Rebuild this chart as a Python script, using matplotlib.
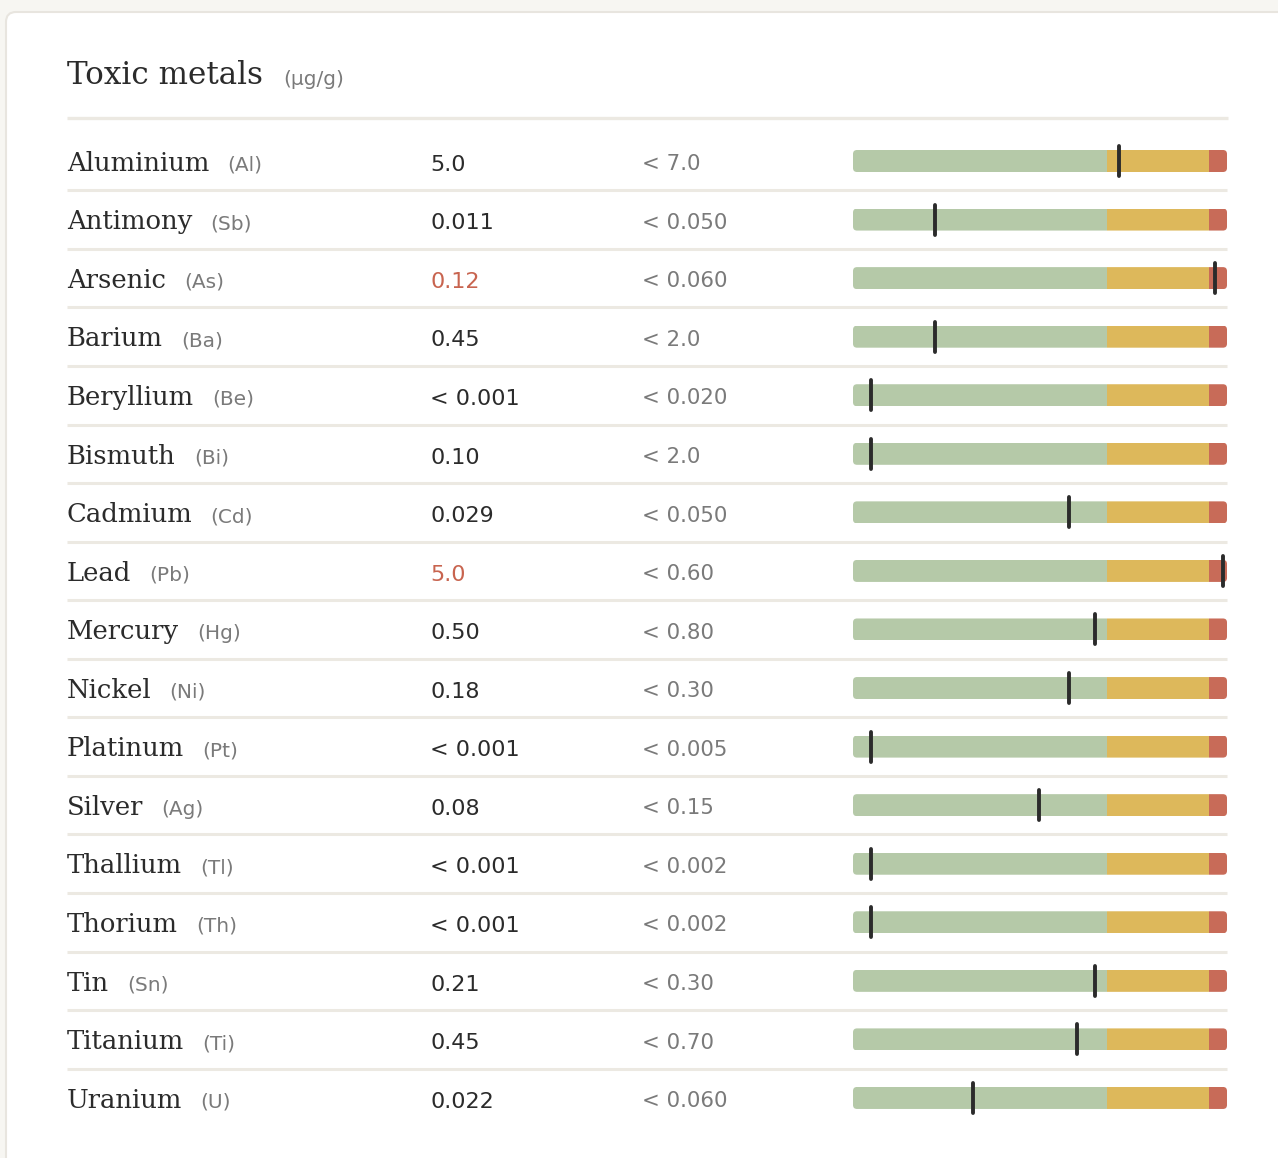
# plot.py
# Toxic metals panel: name / result / reference / range bar per element.
import matplotlib
matplotlib.use("Agg")
import matplotlib.pyplot as plt
from matplotlib.patches import FancyBboxPatch, Rectangle

# --- Data ---
NAMES = ["Aluminium", "Antimony", "Arsenic", "Barium", "Beryllium", "Bismuth",
         "Cadmium", "Lead", "Mercury", "Nickel", "Platinum", "Silver",
         "Thallium", "Thorium", "Tin", "Titanium", "Uranium"]
SYMBOLS = ["Al", "Sb", "As", "Ba", "Be", "Bi", "Cd", "Pb", "Hg", "Ni", "Pt",
           "Ag", "Tl", "Th", "Sn", "Ti", "U"]
RESULTS = ["5.0", "0.011", "0.12", "0.45", "< 0.001", "0.10", "0.029", "5.0",
           "0.50", "0.18", "< 0.001", "0.08", "< 0.001", "< 0.001", "0.21",
           "0.45", "0.022"]
LIMITS = ["< 7.0", "< 0.050", "< 0.060", "< 2.0", "< 0.020", "< 2.0",
          "< 0.050", "< 0.60", "< 0.80", "< 0.30", "< 0.005", "< 0.15",
          "< 0.002", "< 0.002", "< 0.30", "< 0.70", "< 0.060"]
ELEVATED = ["Arsenic", "Lead"]
# marker position on the range bar (0-100 scale of the bar)
MARKER_POS = [71.2, 22.0, 96.9, 21.9, 4.9, 4.9, 57.8, 99.0, 64.8, 57.8, 4.9,
              49.8, 4.9, 4.9, 64.8, 60.0, 32.2]
# zone limits on the same scale: green | yellow | red
ZONES = [(0, 67.9, "#b5c9a8"), (67.9, 95.2, "#ddb85b"), (95.2, 100, "#c86b58")]

# --- Look ---
W, H = 1278, 1158
BG = "#f7f6f2"
INK = "#2b2b2b"
GREY = "#7a7a7a"
RED_TXT = "#c8644f"
RULE = "#ece9e2"
SERIF = "DejaVu Serif"
SANS = "DejaVu Sans"

ROW0, ROW_STEP = 161, 58.56
BAR_X0, BAR_X1 = 853, 1227
BAR_H = 22

fig = plt.figure(figsize=(W / 100, H / 100), dpi=100, facecolor=BG)
ax = fig.add_axes([0, 0, 1, 1])
ax.set_xlim(0, W)
ax.set_ylim(H, 0)
ax.axis("off")

# card
card = FancyBboxPatch((6, 12), 1400, 1300, boxstyle="round,pad=0,rounding_size=10",
                      facecolor="white", edgecolor="#e8e5df", linewidth=1.5)
ax.add_patch(card)

# title
title = ax.text(67, 84, "Toxic metals", family=SERIF, fontsize=22.3, color=INK,
                va="baseline")
fig.canvas.draw()
renderer = fig.canvas.get_renderer()
inv = ax.transData.inverted()
tx = inv.transform(title.get_window_extent(renderer).get_points())[1, 0]
ax.text(tx + 20, 85, "(µg/g)", family=SANS, fontsize=14.5, color=GREY, va="baseline")
ax.plot([67, 1228], [117.5, 117.5], color=RULE, lw=2.4, solid_capstyle="butt")

rows = [ROW0 + i * ROW_STEP for i in range(len(NAMES))]

for i, y in enumerate(rows):
    base = y + 9.7
    t = ax.text(67, base, NAMES[i], family=SERIF, fontsize=18.6, color=INK,
                va="baseline")
    ex = inv.transform(t.get_window_extent(renderer).get_points())[1, 0]
    ax.text(ex + 18, base, f"({SYMBOLS[i]})", family=SANS, fontsize=14.5,
            color=GREY, va="baseline")
    col = RED_TXT if NAMES[i] in ELEVATED else INK
    ax.text(430, base, RESULTS[i], family=SANS, fontsize=16, color=col,
            va="baseline")
    ax.text(642, base - 0.5, LIMITS[i], family=SANS, fontsize=15.3, color=GREY,
            va="baseline")
    if i < len(rows) - 1:
        ax.plot([67, 1227], [y + ROW_STEP / 2, y + ROW_STEP / 2], color=RULE,
                lw=2.2, solid_capstyle="butt")

# bar column: its own axes, x in bar-scale units, y in the same row pixels
bx = fig.add_axes([BAR_X0 / W, 0, (BAR_X1 - BAR_X0) / W, 1])
bx.set_xlim(0, 100)
bx.set_ylim(H, 0)
bx.axis("off")
px_per_unit = (BAR_X1 - BAR_X0) / 100.0
r = 4 / px_per_unit

for i, y in enumerate(rows):
    y0 = y - BAR_H / 2
    # rounded outline used as clip for the three zone rectangles
    shape = FancyBboxPatch((0, y0), 100, BAR_H,
                           boxstyle=f"round,pad=0,rounding_size={r}",
                           mutation_aspect=px_per_unit,
                           facecolor="none", edgecolor="none")
    bx.add_patch(shape)
    for lo, hi, c in ZONES:
        seg = Rectangle((lo, y0), hi - lo, BAR_H, facecolor=c, edgecolor="none")
        bx.add_patch(seg)
        seg.set_clip_path(shape)
    bx.plot([MARKER_POS[i], MARKER_POS[i]], [y - 15, y + 15], color=INK, lw=2.8,
            solid_capstyle="round", clip_on=False)

fig.savefig("out.png", dpi=100, facecolor=BG)
